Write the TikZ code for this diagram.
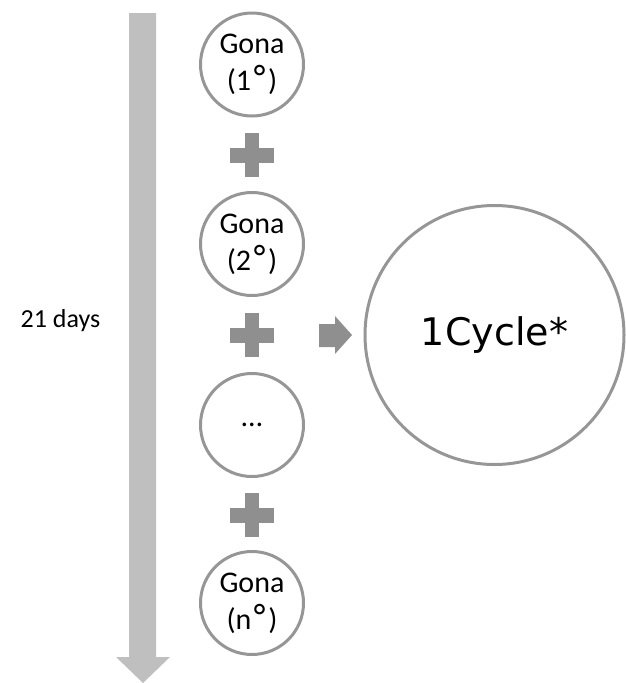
\documentclass[tikz,border=0pt]{standalone}
\usepackage{fontspec}
\setmainfont{Carlito}
\newfontfamily\verd{DejaVu Sans}
\newcommand{\degr}{{\verd\fontsize{34}{37}\selectfont °}}
\definecolor{ringgray}{RGB}{150,150,150}
\definecolor{plusgray}{RGB}{143,143,143}
\definecolor{timegray}{RGB}{191,191,191}
\begin{document}
\begin{tikzpicture}[x=1pt,y=-1pt,
  smallc/.style={circle,draw=ringgray,line width=3pt,minimum size=103pt,inner sep=0pt,align=center,
     font=\fontsize{30}{37}\selectfont},
  bigc/.style={circle,draw=ringgray,line width=3pt,minimum size=259pt,inner sep=0pt,
     font=\verd\fontsize{38}{44}\selectfont},
  plusshape/.style={fill=plusgray},
  timearrow/.style={fill=timegray},
  lbl/.style={font=\fontsize{26}{30}\selectfont,inner sep=0pt}]
\useasboundingbox (0,0) rectangle (625,683);
% time arrow
\fill[timearrow] (129,13) -- (156,13) -- (156,657) -- (170,657) -- (143,683) -- (116,657) -- (129,657) -- cycle;
\node[lbl] (days) at (60.5,321) {21 days};
% small circles
\node[smallc] (g1) at (252,64.5) {Gona\\(1\degr)};
\node[smallc] (g2) at (252,244) {Gona\\(2\degr)};
\node[smallc] (g3) at (252,425) {…};
\node[smallc] (g4) at (252,603) {Gona\\(n\degr)};
% plus signs
\foreach \yy in {155,335,515}{
  \fill[plusshape] (230,\yy-7.5) rectangle (274,\yy+7.5);
  \fill[plusshape] (245,\yy-22) rectangle (259,\yy+22);
}
% small arrow
\fill[plusshape] (319,324) -- (335,324) -- (335,316) -- (352,335) -- (335,354) -- (335,347) -- (319,347) -- cycle;
% big circle
\node[bigc] (cyc) at (494.5,335) {1Cycle*};
\end{tikzpicture}
\end{document}
